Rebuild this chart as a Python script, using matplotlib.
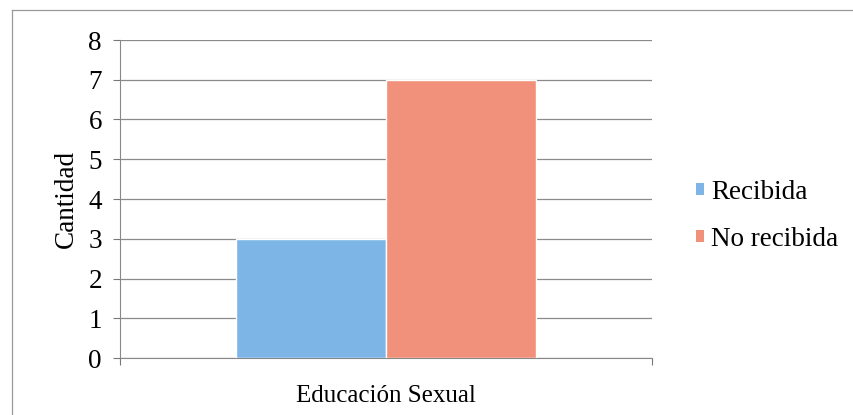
import matplotlib
matplotlib.use("Agg")
import matplotlib.pyplot as plt
from matplotlib.lines import Line2D
from matplotlib.patches import Patch

plt.rcParams['font.family'] = ['Liberation Serif', 'DejaVu Serif']

category = ["Educación Sexual"]
series_names = ["Recibida", "No recibida"]
values = [3, 7]
colors = ["#7cb5e6", "#f1917b"]
yticks = [0, 1, 2, 3, 4, 5, 6, 7, 8]

fig = plt.figure(figsize=(8.54, 4.15), dpi=100)
ax = fig.add_axes([120/854, 57/415, 532/854, 318/415])

w = 0.282
offsets = [-w/2, w/2]
for name, v, c, off in zip(series_names, values, colors, offsets):
    ax.bar(0 + off, v, width=w, color=c, edgecolor="white", linewidth=1.0, label=name, zorder=3)

ax.set_xlim(-0.5, 0.5)
ax.set_ylim(0, 8)
ax.set_yticks(yticks)
ax.set_yticklabels([str(t) for t in yticks], fontsize=19.5)
ax.set_xticks([-0.5, 0.5])
ax.set_xticklabels(["", ""])
ax.tick_params(axis='y', length=5, color="#777777", width=0.8, pad=8)
ax.tick_params(axis='x', length=5, color="#777777", width=0.8)
ax.grid(axis='y', color="#8a8a8a", linewidth=0.9, zorder=0)
for s in ["top", "right"]:
    ax.spines[s].set_visible(False)
ax.spines["left"].set_color("#888888")
ax.spines["bottom"].set_color("#888888")
ax.spines["left"].set_linewidth(0.8)
ax.spines["bottom"].set_linewidth(0.8)

ax.set_ylabel("Cantidad", fontsize=19.5, labelpad=7)
ax.set_xlabel(category[0], fontsize=18, labelpad=11)

handles = [Patch(facecolor=c, edgecolor="none") for c in colors]
fig.legend(handles, series_names, loc="center left", bbox_to_anchor=(696/854, 1 - 216/415),
           frameon=False, fontsize=19.5, handlelength=0.3, handleheight=0.3,
           handletextpad=0.25, labelspacing=0.8, borderaxespad=0, borderpad=0)

# outer chart frame
fig.add_artist(Line2D([12/854, 1], [1 - 10/415, 1 - 10/415], color="#999999", lw=0.9))
fig.add_artist(Line2D([12/854, 12/854], [0, 1 - 10/415], color="#999999", lw=0.9))

fig.savefig("out.png", dpi=100)
